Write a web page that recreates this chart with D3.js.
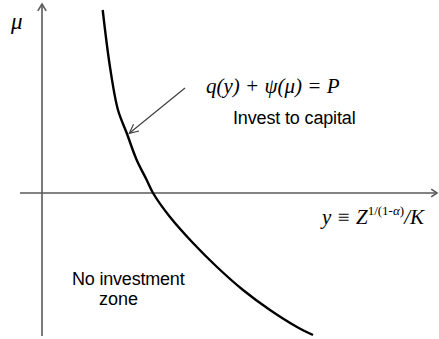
<!DOCTYPE html>
<html lang="en">
<head>
<meta charset="UTF-8">
<title>Investment threshold</title>
<script src="https://d3js.org/d3.v7.min.js"></script>
<style>
  body { margin: 0; background: #fff; }
  .axis-line { stroke: #5a5a5a; stroke-width: 1.6; fill: none; }
  .curve { stroke: #000; stroke-width: 2.4; fill: none; }
  .pointer { stroke: #404040; stroke-width: 1.2; fill: none; }
  .serif { font-family: "Liberation Serif", "Times New Roman", serif; font-style: italic; fill: #000; }
  .sans { font-family: "Liberation Sans", Arial, sans-serif; font-size: 18px; fill: #000; }
</style>
</head>
<body>
<svg id="chart" width="439" height="339"></svg>
<script>
// boundary q(y) + psi(mu) = P (y, mu)
const curveY  = [6.07, 6.8, 7.6, 8.47, 9.47, 10.47, 11.1, 12.8, 15.1, 17.5, 20.1, 22.8, 25.5, 27.1];
const curveMu = [18.3, 12.6, 8.3, 6.0, 3.3, 1.3, 0, -2.4, -5.0, -7.4, -9.7, -11.7, -13.4, -14.2];

// axis extents
const yExtent  = [-2.2, 39.5];
const muExtent = [-14.3, 18.9];

// pointer from the equation label to the curve
const pointerFrom = [14.3, 10.5];
const pointerTo   = [8.73, 5.97];

const svg = d3.select("#chart");

const x = d3.scaleLinear().domain([0, 10]).range([42, 142]);
const y = d3.scaleLinear().domain([0, 10]).range([193, 93]);

// open arrowhead helper
function arrowHead(g, tx, ty, angle, len, spread, cls) {
  const a1 = angle + Math.PI - spread, a2 = angle + Math.PI + spread;
  g.append("path")
    .attr("class", cls)
    .attr("d", "M" + (tx + len * Math.cos(a1)) + "," + (ty + len * Math.sin(a1)) +
               "L" + tx + "," + ty +
               "L" + (tx + len * Math.cos(a2)) + "," + (ty + len * Math.sin(a2)));
}

// axes
svg.append("line").attr("class", "axis-line")
  .attr("x1", x(yExtent[0])).attr("x2", x(yExtent[1]))
  .attr("y1", y(0)).attr("y2", y(0));
arrowHead(svg, x(yExtent[1]), y(0), 0, 7, 0.6, "axis-line");

svg.append("line").attr("class", "axis-line")
  .attr("x1", x(0)).attr("x2", x(0))
  .attr("y1", y(muExtent[0])).attr("y2", y(muExtent[1]));
arrowHead(svg, x(0), y(muExtent[1]), -Math.PI / 2, 8, 0.55, "axis-line");

// curve
const pts = curveY.map((v, i) => [v, curveMu[i]]);
svg.append("path")
  .datum(pts)
  .attr("class", "curve")
  .attr("d", d3.line().x(d => x(d[0])).y(d => y(d[1])).curve(d3.curveCatmullRom));

// pointer arrow
svg.append("line").attr("class", "pointer")
  .attr("x1", x(pointerFrom[0])).attr("y1", y(pointerFrom[1]))
  .attr("x2", x(pointerTo[0])).attr("y2", y(pointerTo[1]));
const ang = Math.atan2(y(pointerTo[1]) - y(pointerFrom[1]), x(pointerTo[0]) - x(pointerFrom[0]));
arrowHead(svg, x(pointerTo[0]), y(pointerTo[1]), ang, 10, 0.45, "pointer");

// labels
svg.append("text").attr("class", "serif")
  .attr("x", 11).attr("y", 29).attr("font-size", 23).text("μ");

svg.append("text").attr("class", "serif")
  .attr("x", 206).attr("y", 93).attr("font-size", 21)
  .text("q(y) + ψ(μ) = P");

svg.append("text").attr("class", "sans")
  .attr("x", 233).attr("y", 124).attr("letter-spacing", -0.15)
  .text("Invest to capital");

const yl = svg.append("text").attr("class", "serif")
  .attr("x", 322).attr("y", 224).attr("font-size", 21);
yl.append("tspan").text("y ≡ Z");
yl.append("tspan").attr("font-size", 13).attr("font-style", "normal").attr("dy", -9).text("1/(1-");
yl.append("tspan").attr("font-size", 13).text("α");
yl.append("tspan").attr("font-size", 13).attr("font-style", "normal").text(")");
yl.append("tspan").attr("dy", 9).text("/K");

svg.append("text").attr("class", "sans")
  .attr("x", 72).attr("y", 285).attr("letter-spacing", -0.2)
  .text("No investment");
svg.append("text").attr("class", "sans")
  .attr("x", 99).attr("y", 305)
  .text("zone");
</script>
</body>
</html>
